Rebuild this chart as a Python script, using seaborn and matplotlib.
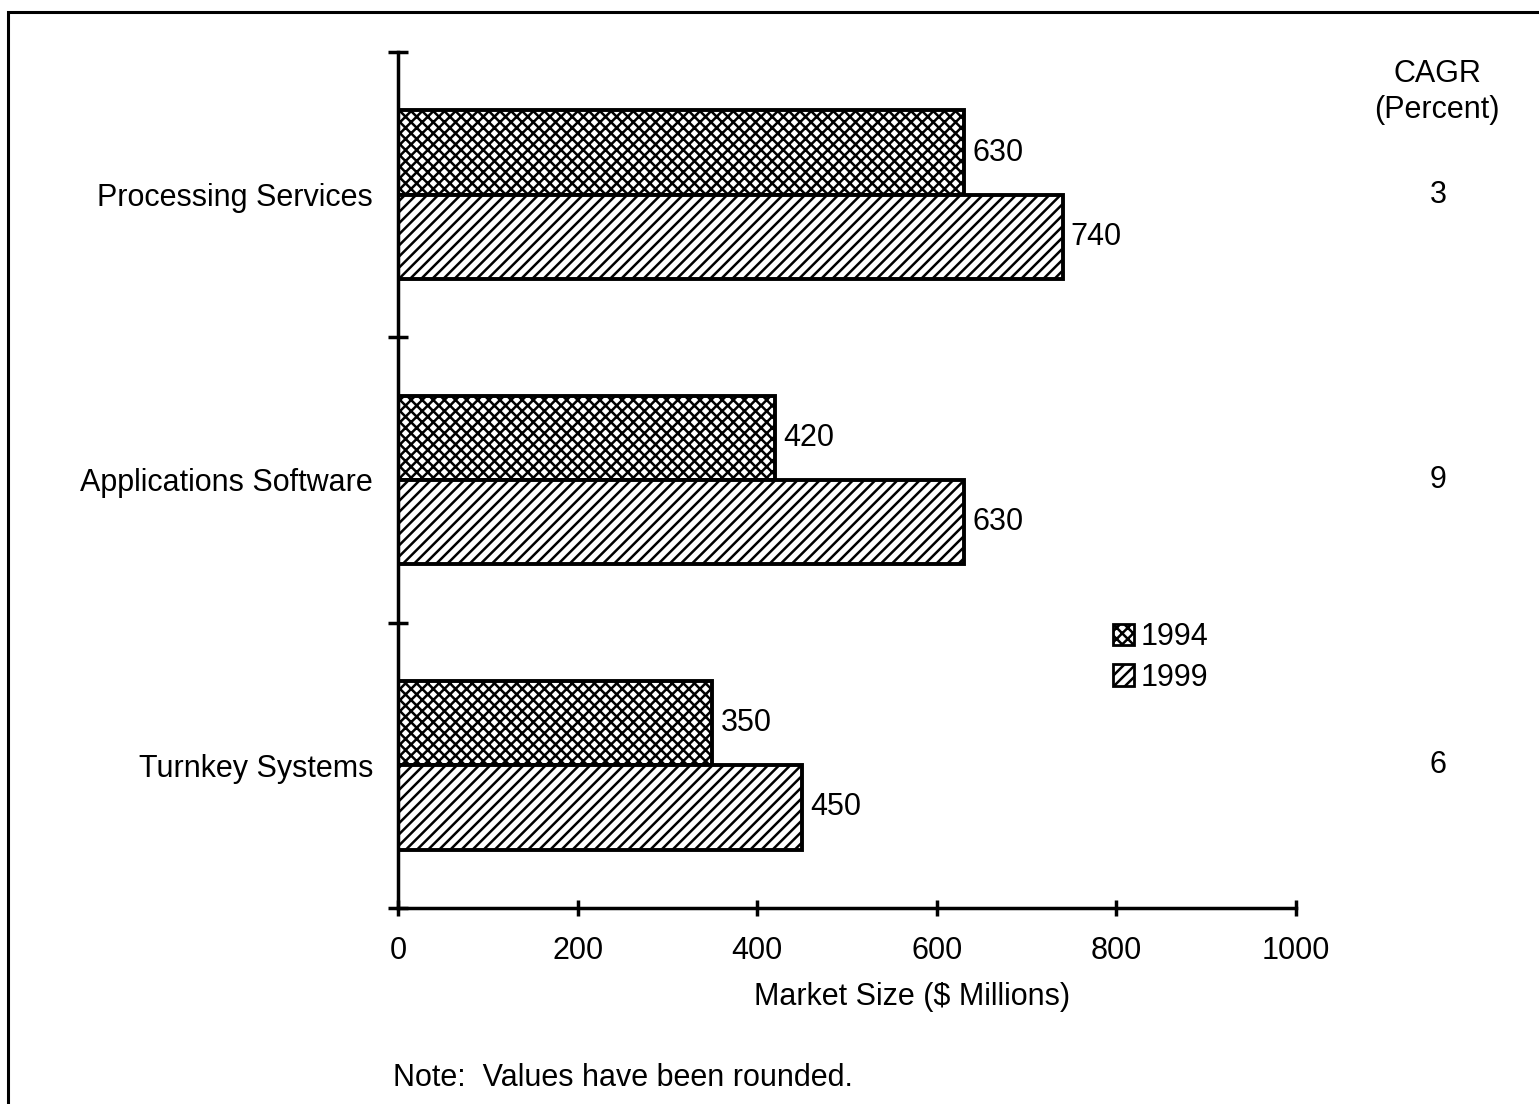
import numpy as np
import pandas as pd
import matplotlib as mpl
import matplotlib.pyplot as plt
import seaborn as sns
from matplotlib.patches import Patch, Rectangle
from matplotlib.transforms import blended_transform_factory

segments = ['Processing Services', 'Applications Software', 'Turnkey Systems']
years = ['1994', '1999']
size_1994 = [630, 420, 350]
size_1999 = [740, 630, 450]
cagr = ['3', '9', '6']

sns.set_style('white')
mpl.rcParams['font.family'] = ['Liberation Sans', 'DejaVu Sans']
mpl.rcParams['hatch.linewidth'] = 1.8
for k in ['text.color', 'axes.labelcolor', 'xtick.color', 'ytick.color']:
    mpl.rcParams[k] = 'black'

FS = 22

df = pd.DataFrame({
    'segment': segments * 2,
    'year': ['1994'] * 3 + ['1999'] * 3,
    'value': size_1994 + size_1999,
})

fig = plt.figure(figsize=(15.39, 11.04), dpi=100)
ax = fig.add_axes([398 / 1539, 1 - 908 / 1104, 898 / 1539, 856 / 1104])

sns.barplot(data=df, x='value', y='segment', hue='year', orient='h',
            order=segments, hue_order=years, width=0.59,
            palette=['white', 'white'], edgecolor='black', linewidth=2.8,
            legend=False, ax=ax, saturation=1)

hatches = ['xxx', '///']
for cont, h in zip(ax.containers, hatches):
    for bar in cont:
        bar.set_hatch(h)
        bar.set_facecolor('white')
        bar.set_edgecolor('black')
    ax.bar_label(cont, padding=6, fontsize=FS)

ax.set_xlim(0, 1000)
ax.set_ylim(2.5, -0.5)
ax.set_xticks([0, 200, 400, 600, 800, 1000])
ax.tick_params(axis='x', direction='inout', length=12, width=2.5,
               labelsize=FS, pad=14, bottom=True)
ax.set_yticks(range(3))
ax.set_yticklabels(segments)
ax.tick_params(axis='y', which='major', length=0, labelsize=FS, pad=18)
ax.set_yticks([-0.5, 0.5, 1.5, 2.5], minor=True)
ax.tick_params(axis='y', which='minor', direction='inout', length=14,
               width=2.5, left=True)
ax.set_xlabel('Market Size ($ Millions)', fontsize=FS, labelpad=12, x=0.572)
ax.set_ylabel('')
sns.despine(ax=ax)
for s in ['left', 'bottom']:
    ax.spines[s].set_linewidth(2.5)
    ax.spines[s].set_color('black')

# legend
handles = [Patch(facecolor='white', edgecolor='black', hatch=h, lw=2)
           for h in hatches]
fig.legend(handles=handles, labels=years, loc='upper left',
           bbox_to_anchor=(1113 / 1539, 1 - 622 / 1104), frameon=False,
           fontsize=FS, handlelength=0.7, handleheight=0.7,
           handletextpad=0.2, labelspacing=0.35, borderpad=0,
           borderaxespad=0)

# CAGR column
tr = blended_transform_factory(fig.transFigure, ax.transData)
fig.text(1437 / 1539, 1 - 92 / 1104, 'CAGR\n(Percent)', ha='center',
         va='center', fontsize=FS, linespacing=1.3)
for i, c in enumerate(cagr):
    ax.text(1438 / 1539, i, c, transform=tr, ha='center', va='center',
            fontsize=FS)

fig.text(393 / 1539, 1 - 1078 / 1104, 'Note:  Values have been rounded.',
         ha='left', va='center', fontsize=FS)

# page frame
fig.add_artist(Rectangle((8 / 1539, -0.1), 1.2, 1 - 12 / 1104 + 0.1,
                         transform=fig.transFigure, fill=False,
                         lw=2.2, edgecolor='black'))

fig.savefig('out.png', dpi=100)
